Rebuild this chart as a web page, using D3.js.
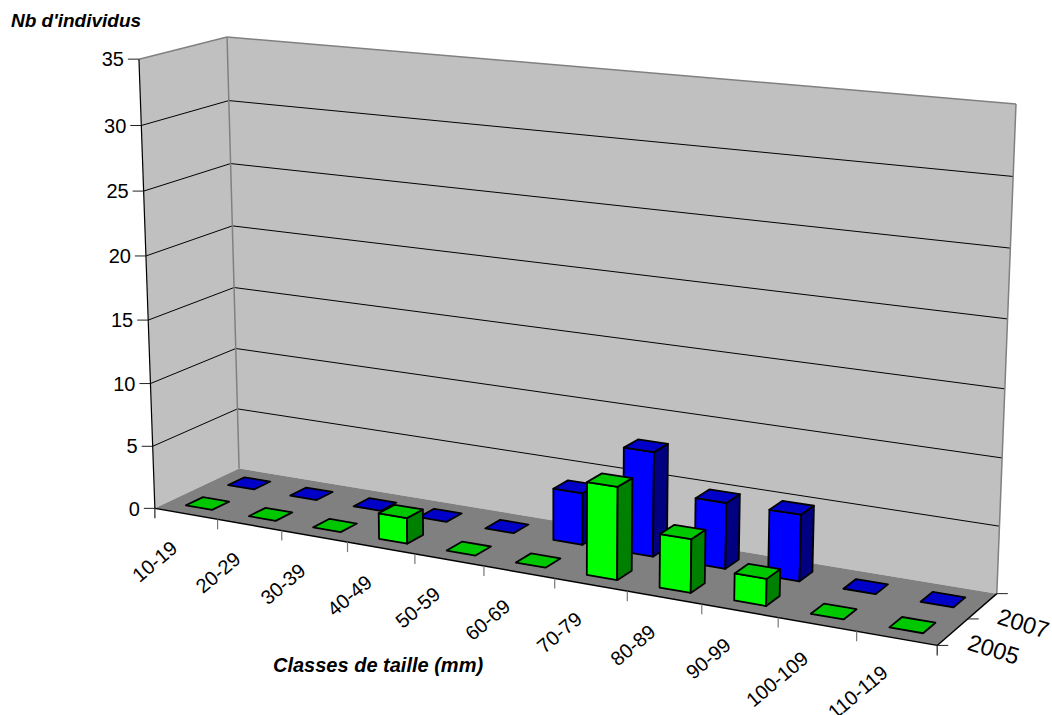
<!DOCTYPE html>
<html>
<head>
<meta charset="utf-8">
<title>Classes de taille</title>
<script src="https://cdn.jsdelivr.net/npm/d3@7"></script>
<style>
body { margin: 0; background: #fff; }
text { font-family: "Liberation Sans", Arial, sans-serif; fill: #000; }
</style>
</head>
<body>
<svg width="1052" height="715"></svg>
<script>
var categories = ["10-19", "20-29", "30-39", "40-49", "50-59", "60-69", "70-79", "80-89", "90-99", "100-109", "110-119"];
var years = ["2005", "2007"];
var values2005 = [0, 0, 0, 2, 0, 0, 7, 4, 2, 0, 0];
var values2007 = [0, 0, 0, 0, 0, 4, 8, 5, 5, 0, 0];
var yTicks = [0, 5, 10, 15, 20, 25, 30, 35];

var series = [
    { year: "2007", values: values2007, top: "#0000c8", front: "#0000ff", side: "#000080" },
    { year: "2005", values: values2005, top: "#00c800", front: "#00ff00", side: "#008000" }
];

var svg = d3.select("svg");

// box corners as seen on screen: [x, y, z, screenX, screenY], x/y/z between 0 and 1
var corners = [
    [0, 0, 0, 155, 508],
    [0, 1, 0, 139, 59],
    [0, 0, 1, 239, 469],
    [0, 1, 1, 227, 37],
    [1, 0, 0, 937, 646],
    [1, 0, 1, 997, 593],
    [1, 1, 1, 1016, 104]
];

// fit the perspective camera to those corners (least squares)
function solveCamera(pts) {
    var rows = [];
    pts.forEach(function(p) {
        rows.push([p[0], p[1], p[2], 1, 0, 0, 0, 0, -p[3] * p[0], -p[3] * p[1], -p[3] * p[2], p[3]]);
        rows.push([0, 0, 0, 0, p[0], p[1], p[2], 1, -p[4] * p[0], -p[4] * p[1], -p[4] * p[2], p[4]]);
    });
    var n = 11;
    var m = d3.range(n).map(function(i) {
        return d3.range(n + 1).map(function(j) {
            return d3.sum(rows, function(r) { return r[i] * r[j]; });
        });
    });
    for (var c = 0; c < n; c++) {
        var best = c;
        for (var r = c + 1; r < n; r++) if (Math.abs(m[r][c]) > Math.abs(m[best][c])) best = r;
        var tmp = m[c]; m[c] = m[best]; m[best] = tmp;
        for (var r2 = 0; r2 < n; r2++) {
            if (r2 === c) continue;
            var f = m[r2][c] / m[c][c];
            for (var k = c; k <= n; k++) m[r2][k] -= f * m[c][k];
        }
    }
    return m.map(function(row, i) { return row[n] / row[i]; });
}
var cam = solveCamera(corners);

function project(x, y, z) {
    var w = cam[8] * x + cam[9] * y + cam[10] * z + 1;
    return [
        (cam[0] * x + cam[1] * y + cam[2] * z + cam[3]) / w,
        (cam[4] * x + cam[5] * y + cam[6] * z + cam[7]) / w
    ];
}

var xScale = d3.scaleBand().domain(categories).range([0, 1]).paddingInner(0.58).paddingOuter(0.29);
var zScale = d3.scaleBand().domain(years).range([0, 1]).paddingInner(0.6).paddingOuter(0.3);
var yScale = d3.scaleLinear().domain([0, 35]).range([0, 1]);

function path(pts) {
    return "M" + pts.map(function(p) { return project(p[0], p[1], p[2]).join(","); }).join("L") + "Z";
}
function line3(a, b) {
    var p = project(a[0], a[1], a[2]), q = project(b[0], b[1], b[2]);
    return { x1: p[0], y1: p[1], x2: q[0], y2: q[1] };
}
function drawLine(parent, a, b, color, w) {
    var s = line3(a, b);
    parent.append("line")
        .attr("x1", s.x1).attr("y1", s.y1).attr("x2", s.x2).attr("y2", s.y2)
        .attr("stroke", color).attr("stroke-width", w);
}

// walls and floor
var walls = svg.append("g");
walls.append("path").attr("d", path([[0, 0, 0], [0, 1, 0], [0, 1, 1], [0, 0, 1]])).attr("fill", "#c0c0c0");
walls.append("path").attr("d", path([[0, 0, 1], [0, 1, 1], [1, 1, 1], [1, 0, 1]])).attr("fill", "#c0c0c0");
walls.append("path").attr("d", path([[0, 0, 0], [1, 0, 0], [1, 0, 1], [0, 0, 1]])).attr("fill", "#808080");

// grid lines
yTicks.slice(1, -1).forEach(function(t) {
    var v = yScale(t);
    drawLine(walls, [0, v, 0], [0, v, 1], "#000", 1);
    drawLine(walls, [0, v, 1], [1, v, 1], "#000", 1);
});
drawLine(walls, [0, 1, 0], [0, 1, 1], "#808080", 1.5);
drawLine(walls, [0, 1, 1], [1, 1, 1], "#808080", 1.5);
drawLine(walls, [0, 0, 1], [0, 1, 1], "#808080", 1.5);
drawLine(walls, [1, 0, 1], [1, 1, 1], "#808080", 1.5);
drawLine(walls, [0, 0, 0], [0, 1, 0], "#000", 1.2);
drawLine(walls, [0, 0, 0], [1, 0, 0], "#000", 1.4);
drawLine(walls, [1, 0, 0], [1, 0, 1], "#000", 1.4);

// y axis ticks and labels
var yAxis = svg.append("g");
yTicks.forEach(function(t) {
    var p = project(0, yScale(t), 0);
    yAxis.append("line")
        .attr("x1", p[0] - 11).attr("y1", p[1]).attr("x2", p[0]).attr("y2", p[1])
        .attr("stroke", "#222").attr("stroke-width", 1);
    yAxis.append("text")
        .attr("x", p[0] - 15).attr("y", p[1])
        .attr("dy", "0.36em")
        .attr("text-anchor", "end")
        .style("font-size", "20px")
        .text(t);
});

// category ticks sit on the band boundaries of the front edge
var xAxis = svg.append("g");
var boundaries = categories.map(function(c) {
    return xScale(c) - xScale.step() * xScale.paddingInner() / 2;
}).concat([1]);
boundaries.forEach(function(b, i) {
    var p = project(b, 0, 0);
    xAxis.append("line")
        .attr("x1", p[0]).attr("y1", p[1]).attr("x2", p[0]).attr("y2", p[1] + 10)
        .attr("stroke", (i === 0 || i === categories.length) ? "#222" : "#777")
        .attr("stroke-width", 1.2);
});
xAxis.selectAll("text")
    .data(categories)
    .enter().append("text")
    .attr("text-anchor", "end")
    .attr("dy", "0.36em")
    .style("font-size", "20px")
    .attr("transform", function(d) {
        var p = project(xScale(d) + xScale.bandwidth() / 2, 0, 0);
        return "translate(" + (p[0] - 12) + "," + (p[1] + 31) + ") rotate(-40)";
    })
    .text(function(d) { return d; });

// depth ticks and year labels
var zAxis = svg.append("g");
[0, 0.5, 1].forEach(function(z) {
    var p = project(1, 0, z);
    zAxis.append("line")
        .attr("x1", p[0]).attr("y1", p[1]).attr("x2", p[0] + 11).attr("y2", p[1])
        .attr("stroke", "#222").attr("stroke-width", 1);
});
zAxis.selectAll("text")
    .data(years)
    .enter().append("text")
    .attr("text-anchor", "middle")
    .attr("dy", "0.36em")
    .style("font-size", "23.5px")
    .attr("transform", function(d) {
        var p = project(1, 0, zScale(d) + zScale.bandwidth() / 2);
        return "translate(" + (p[0] + 41) + "," + (p[1] + 17) + ") rotate(17)";
    })
    .text(function(d) { return d; });

// bars, back series first
series.forEach(function(s) {
    var z0 = zScale(s.year), z1 = z0 + zScale.bandwidth();
    var rows = categories.map(function(c, i) {
        return { x0: xScale(c), x1: xScale(c) + xScale.bandwidth(), h: yScale(s.values[i]) };
    });
    var bar = svg.append("g").selectAll("g")
        .data(rows)
        .enter().append("g")
        .attr("stroke", "#000")
        .attr("stroke-width", 1.8)
        .attr("stroke-linejoin", "round");
    bar.filter(function(d) { return d.h > 0; }).append("path")
        .attr("fill", s.front)
        .attr("d", function(d) { return path([[d.x0, 0, z0], [d.x1, 0, z0], [d.x1, d.h, z0], [d.x0, d.h, z0]]); });
    bar.filter(function(d) { return d.h > 0; }).append("path")
        .attr("fill", s.side)
        .attr("d", function(d) { return path([[d.x1, 0, z0], [d.x1, 0, z1], [d.x1, d.h, z1], [d.x1, d.h, z0]]); });
    bar.append("path")
        .attr("fill", s.top)
        .attr("d", function(d) { return path([[d.x0, d.h, z0], [d.x1, d.h, z0], [d.x1, d.h, z1], [d.x0, d.h, z1]]); });
});

// axis titles
svg.append("text")
    .attr("x", 11).attr("y", 27)
    .style("font", "italic bold 19px 'Liberation Sans', Arial, sans-serif")
    .text("Nb d'individus");
svg.append("text")
    .attr("x", 273).attr("y", 672)
    .style("font", "italic bold 20px 'Liberation Sans', Arial, sans-serif")
    .text("Classes de taille (mm)");
</script>
</body>
</html>
